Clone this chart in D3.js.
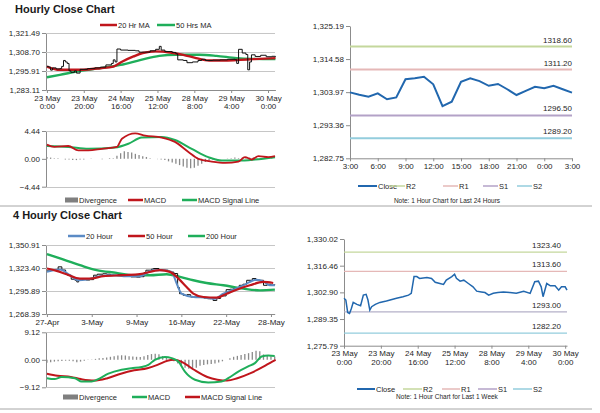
<!DOCTYPE html>
<html>
<head>
<meta charset="utf-8">
<style>
  body { margin: 0; background: #fff; }
  svg { font-family: "Liberation Sans", Arial, sans-serif; }
  .axis .domain { stroke: #8c8c8c; }
  .axis line { stroke: #8c8c8c; }
  .axis text { fill: #262626; font-size: 8px; }
  .grid { stroke: #c6c6c6; stroke-width: 1; shape-rendering: crispEdges; }
  .title { font-size: 11px; font-weight: bold; fill: #1a1a1a; }
  .legend text { font-size: 7.5px; fill: #262626; }
  .note { font-size: 6.5px; fill: #262626; }
  .lvl { font-size: 8px; fill: #262626; }
</style>
<script src="https://d3js.org/d3.v7.min.js"></script>
</head>
<body>
<script>

// ---- hourly close chart (last week, bar index -> value) ----
var hourlyTicks = [["23 May","0:00"],["23 May","20:00"],["24 May","16:00"],["25 May","12:00"],["28 May","8:00"],["29 May","4:00"],["30 May","0:00"]];
var hourlyPrice = [[0,1299],[1,1298.5],[2,1296.5],[3,1298],[5,1297.3],[7,1297.5],[8,1299],[9,1303],[10,1302],[11,1301],[12,1296],[13,1295],[15,1296],[16,1294.5],[18,1297],[22,1297.5],[26,1298],[29,1298.5],[32,1300],[35,1301],[36,1303.4],[37,1302],[38,1310.7],[40,1310],[44,1309.8],[48,1309.5],[50,1308.6],[53,1308.6],[56,1309.5],[59,1310.5],[61,1312.5],[62,1310],[64,1309],[68,1308.4],[70,1307.5],[71,1303.4],[74,1303],[76,1301.5],[79,1302],[82,1303],[84,1303.8],[86,1303],[90,1303.2],[94,1303.4],[98,1303.8],[102,1303.5],[103,1301],[104,1310.5],[106,1308],[108,1307],[109,1296.7],[110,1302],[111,1306.8],[113,1305.7],[116,1306.5],[119,1305.5],[122,1305.8],[124,1305.2]];
var hourlyMA20 = [[0,1298.9],[7,1296.7],[18,1296.7],[29,1297.8],[36,1298.9],[41,1302.3],[47,1305.7],[52,1308],[59,1309.1],[67,1308.4],[74,1306.8],[81,1304.6],[88,1303],[97,1303],[105,1303.4],[112,1303.9],[124,1304.6]];
var hourlyMA50 = [[0,1291.7],[7,1293.3],[16,1295.5],[29,1297.8],[40,1300],[51,1303.4],[61,1306.1],[70,1306.8],[83,1306.8],[92,1306.1],[103,1304.6],[112,1304.1],[124,1303.9]];
var hourlyMacd = [[0,2.27],[4,1.9],[11.6,2.05],[17,1.35],[22.5,1.35],[29.8,1.6],[38,1.9],[40.7,3.2],[47.9,4.06],[53.3,3.7],[62.3,3.4],[69.5,2.7],[76.8,1.1],[82.2,0],[89.4,-0.43],[96.7,-0.65],[103.9,-0.43],[107.5,0.27],[111.2,-0.1],[114.8,0.43],[120.2,0.27],[123.8,0.43]];
var hourlySignal = [[0,2.05],[11.6,1.9],[22.5,1.6],[37,1.8],[44.2,2.4],[51.4,3.4],[62.3,3.5],[69.5,3.0],[78.6,1.6],[87.6,0.27],[94.9,-0.27],[103.9,-0.27],[113,-0.1],[123.8,0.27]];
// one value every 2 bars
var hourlyDivergence = [0.3,0.2,0.1,0.1,0.0,-0.1,
  -0.1,-0.2,-0.2,-0.1,-0.1,0,0.05,0,0,-0.05,0,0.1,
  0.1,0.5,0.9,1.2,1.1,1.0,0.8,0.6,0.4,0.3,0.1,0,
  -0.05,-0.1,-0.2,-0.4,-0.6,-0.8,-1.0,-1.2,-1.4,-1.5,-1.4,-1.1,-0.8,-0.5,-0.3,-0.1,
  -0.05,0,0,0.05,0.1,0.2,0.1,0.2,0.3,0.2,0.2,0.1,0.1,0.2,0.1,0.1];

// ---- last 24 hours ----
var dayHours = ["3:00","6:00","9:00","12:00","15:00","18:00","21:00","0:00","3:00"];
var dayClose = [1303.9,1303.15,1302.5,1303.6,1301.7,1302.3,1308.1,1308.4,1308.9,1306.5,1299.5,1300.9,1307.3,1308.4,1307.5,1306.0,1306.6,1304.9,1303.05,1304.4,1305.7,1305.2,1306.0,1304.9,1303.8];
var dayLevels = [["R2",1318.60],["R1",1311.20],["S1",1296.50],["S2",1289.20]];
var dayTicks = [1282.75,1293.36,1303.97,1314.58,1325.19];

// ---- 4 hourly close chart ----
var fourTicks = ["27-Apr","3-May","9-May","16-May","22-May","28-May"];
var fourPrice = [[0,1320],[2,1321],[5,1321],[6,1324.8],[8,1321],[10,1316],[11,1314.8],[13,1310],[15,1308.7],[16,1306.7],[17,1309],[19,1309.5],[21,1309],[23,1309.5],[25,1314.8],[27,1316],[30,1316.5],[32,1316],[34,1315],[36,1314.8],[38,1315.5],[41,1314],[43,1314.8],[45,1312.8],[48,1312.5],[50,1313],[52,1318],[53,1320.8],[56,1322],[57,1322.8],[60,1321.5],[62,1320.8],[65,1319.5],[66,1318.5],[68,1316.8],[70,1300],[71,1292.7],[73,1290.7],[75,1291.5],[77,1288.7],[80,1289],[82,1288.7],[84,1287.5],[86,1286.7],[88,1287],[89,1284.6],[91,1287],[93,1290],[96,1297.5],[98,1298],[100,1298.7],[103,1302.7],[105,1304],[107,1308.7],[110,1310.8],[112,1309],[114,1308.7],[116,1302.7],[118,1304],[120,1303],[122,1303.9]];
var four20 = [[0,1318.8],[7,1321.6],[12.3,1314.8],[16.8,1308.7],[21.2,1309.5],[28.4,1313.6],[35.5,1314.8],[42.7,1313.6],[49.8,1313.6],[57,1320.8],[62.3,1320.8],[66.8,1318.8],[69.5,1304.7],[72.1,1292.7],[78.4,1288.7],[85.5,1287.9],[90,1286.7],[94.5,1292.7],[99.8,1297.5],[105.2,1302.7],[112.3,1309.5],[115.9,1307.5],[119.4,1302.7],[122.1,1302.7]];
var four50 = [[0,1322.8],[5.2,1320],[10.5,1316],[17.7,1310.8],[23,1310.8],[30.2,1313.6],[40.9,1314.8],[49.8,1316],[60.5,1320.8],[65.9,1318.8],[69.5,1312.8],[74.8,1300.7],[78.4,1292.7],[83.8,1288.7],[90.9,1287.9],[96.3,1292.7],[101.6,1297.5],[108.7,1302.7],[115.9,1306.7],[121.2,1305.5]];
var four200 = [[0,1340],[7,1334.8],[17.7,1326.8],[26.6,1320.8],[37.3,1317.6],[46.2,1314.8],[55.2,1314.8],[64.1,1316],[71.3,1312.8],[78.4,1308.7],[85.5,1305.5],[94.5,1302.7],[105.2,1298.7],[114.1,1296.7],[122.1,1297.5]];
var fourMacd = [[0,-6.1],[4,-6.4],[7.9,-5.7],[15,-6.1],[18.6,-7.2],[23.9,-7.2],[27.5,-6.4],[32.9,-4.6],[40,-3.3],[45.3,-2.8],[50.7,-2.4],[54.3,-1.7],[57.8,0],[63.2,0.9],[66.8,0.55],[70.4,-0.55],[73.9,-3.9],[79.3,-6.6],[86.4,-7.5],[93.5,-7.2],[97.1,-6.1],[102.5,-3.9],[107.8,-2.2],[111.4,-1.1],[115,1.1],[118.5,1.4],[122,1.3]];
var fourSignal = [[0,-4.6],[5.7,-5.3],[12.8,-5.7],[18.2,-6.4],[25.3,-6.9],[32.4,-6.1],[39.6,-4.6],[46.7,-3.5],[53.8,-2.8],[59.2,-1.7],[64.5,-0.3],[68.1,0],[73.4,-1.1],[78.8,-3.3],[85.9,-5.7],[91.3,-6.6],[96.6,-6.9],[102,-6.1],[109.1,-4.4],[116.2,-2.2],[119.8,-0.9],[122.5,0]];
var fourDivergence = [-1.0,-0.8,-0.6,-0.5,-0.4,-0.3,-0.3,-0.5,-0.8,-0.6,
  -0.3,-0.1,0.1,0.3,0.5,0.6,0.8,1.0,
  1.2,1.4,1.5,1.4,1.2,1.1,1.0,0.9,
  1.2,1.6,1.9,2.0,1.8,1.3,0.8,0.3,
  -0.5,-1.2,-2.0,-2.6,-3.0,-3.0,-2.6,-2.0,-1.7,
  -1.5,-1.4,-1.2,-0.9,-0.5,0.0,
  0.5,1.0,1.3,1.6,1.9,2.2,2.6,3.0,2.8,1.8,1.3,1.2,1.1];

// ---- 1 hour chart for last 1 week ----
var weekClose = [[0,1299.9],[1,1299],[2,1292.7],[3,1292.2],[4,1294.7],[5,1297.8],[7,1296.8],[9,1296.1],[10.5,1301.5],[12,1301.9],[13,1299],[14,1293.9],[15,1295.6],[17,1296.8],[19.5,1297.8],[23,1298.5],[25,1299],[28.5,1299.9],[32,1300.7],[35,1301.5],[36.5,1302.4],[38,1310.9],[39.5,1310.9],[41,1310],[45,1310.4],[47.5,1310],[49.5,1308],[52,1307.4],[54,1306.9],[55.5,1309.1],[58.5,1310.9],[60,1312.1],[61,1310],[63,1308.6],[65,1309.1],[67.5,1307.4],[70,1305.7],[72,1303.5],[74.5,1303.1],[76.5,1302.8],[78.5,1301.5],[81,1302.4],[83.5,1302.8],[86.5,1303.1],[90,1302.8],[93.5,1302.4],[97.5,1303.5],[101,1302.4],[103.5,1308.3],[105.5,1308.6],[107,1305.7],[108,1300.7],[110,1307.4],[112,1306.2],[114.5,1306.2],[116.5,1304],[118,1305.7],[120,1305.7],[121,1304]];
var weekLevels = [["R2",1323.40],["R1",1313.60],["S1",1293.00],["S2",1282.20]];
var weekTicks = [1275.79,1289.35,1302.90,1316.46,1330.02];

var RED = "#c0161c", GREEN = "#1fae5a", BLUE = "#5b8bc5", DIV = "#8a8a8a";
var CLOSE = "#2167ae";
var levelColor = { R2: "#c4d79c", R1: "#e5b8b7", S1: "#b3a2c7", S2: "#93cddd" };
var fmt2 = d3.format(",.2f");

var svg = d3.select("body").append("svg")
  .attr("width", 600).attr("height", 413);

svg.append("text").attr("class", "title").attr("x", 15).attr("y", 13).text("Hourly Close Chart");
svg.append("text").attr("class", "title").attr("x", 13).attr("y", 219).text("4 Hourly Close Chart");

svg.selectAll(".sep").data([206, 409]).enter().append("line")
  .attr("x1", 0).attr("x2", 592).attr("y1", function(d){return d;}).attr("y2", function(d){return d;})
  .attr("stroke", "#a6a6a6").attr("stroke-width", 1);

function legend(y, items) {
  var g = svg.append("g").attr("class", "legend");
  items.forEach(function(it) {
    if (it.box) {
      g.append("rect").attr("x", it.x0).attr("y", y - 2.5).attr("width", it.x1 - it.x0).attr("height", 5).attr("fill", it.color);
    } else {
      g.append("line").attr("x1", it.x0).attr("x2", it.x1).attr("y1", y).attr("y2", y)
        .attr("stroke", it.color).attr("stroke-width", it.w || 2.5);
    }
    g.append("text").attr("x", it.x1 + 1).attr("y", y).attr("dy", "0.35em").text(it.label);
  });
}

function lineOf(x, y, curve) {
  return d3.line().x(function(d){return x(d[0]);}).y(function(d){return y(d[1]);}).curve(curve || d3.curveLinear);
}

function leftAxis(y, xPos, ticks, format, grid, x1) {
  var g = svg.append("g").attr("class", "axis").attr("transform", "translate(" + xPos + ",0)")
    .call(d3.axisLeft(y).tickValues(ticks).tickFormat(format).tickSize(4).tickSizeOuter(0).tickPadding(2));
  if (grid) {
    svg.append("g").selectAll("line").data(grid).enter().append("line").attr("class", "grid")
      .attr("x1", xPos).attr("x2", x1).attr("y1", function(d){return Math.round(y(d)) + 0.5;}).attr("y2", function(d){return Math.round(y(d)) + 0.5;});
  }
  return g;
}

function bottomAxis(x, yPos, ticks, labels) {
  var g = svg.append("g").attr("class", "axis").attr("transform", "translate(0," + yPos + ")")
    .call(d3.axisBottom(x).tickValues(ticks).tickSize(3).tickSizeOuter(0).tickPadding(2));
  g.selectAll(".tick text").each(function(d, i) {
    var el = d3.select(this), lab = labels[i];
    el.text(null);
    [].concat(lab).forEach(function(t, k) {
      el.append("tspan").attr("x", 0).attr("dy", k ? "1.1em" : "0.71em").text(t);
    });
  });
  return g;
}

function divergenceBars(x, y, values) {
  svg.append("g").selectAll("line").data(values).enter().append("line")
    .attr("x1", function(d, i){return x(i * 2);}).attr("x2", function(d, i){return x(i * 2);})
    .attr("y1", y(0)).attr("y2", function(d){return y(d);})
    .attr("stroke", DIV).attr("stroke-width", 1.3);
}

// ================= Panel 1: hourly price =================
(function() {
  var x = d3.scaleLinear().domain([-0.5, 124]).range([46, 275.4]);
  var y = d3.scaleLinear().domain([1283.11, 1321.49]).range([90, 33]);
  var ticks = [1283.11, 1295.91, 1308.70, 1321.49];
  leftAxis(y, 46, ticks, fmt2, ticks.slice(1), 275);
  bottomAxis(x, 90, [0, 20, 40, 60, 80, 100, 120], hourlyTicks);
  svg.append("path").datum(hourlyMA50).attr("d", lineOf(x, y, d3.curveMonotoneX)).attr("fill", "none").attr("stroke", GREEN).attr("stroke-width", 2.4);
  svg.append("path").datum(hourlyMA20).attr("d", lineOf(x, y, d3.curveMonotoneX)).attr("fill", "none").attr("stroke", RED).attr("stroke-width", 2.4);
  svg.append("path").datum(hourlyPrice).attr("d", lineOf(x, y, d3.curveStepAfter)).attr("fill", "none").attr("stroke", "#111").attr("stroke-width", 1);
  legend(25, [
    { x0: 100, x1: 117, color: RED, label: "20 Hr MA" },
    { x0: 157, x1: 175, color: GREEN, label: "50 Hrs MA" }
  ]);
})();

// ================= Panel 2: hourly MACD =================
(function() {
  var x = d3.scaleLinear().domain([-0.5, 124]).range([46, 275.4]);
  var y = d3.scaleLinear().domain([-4.44, 4.44]).range([186.7, 131]);
  leftAxis(y, 46, [-4.44, 0, 4.44], d3.format(".2f"), [-4.44, 4.44], 275);
  divergenceBars(x, y, hourlyDivergence);
  svg.append("path").datum(hourlySignal).attr("d", lineOf(x, y, d3.curveMonotoneX)).attr("fill", "none").attr("stroke", GREEN).attr("stroke-width", 2);
  svg.append("path").datum(hourlyMacd).attr("d", lineOf(x, y, d3.curveMonotoneX)).attr("fill", "none").attr("stroke", RED).attr("stroke-width", 1.8);
  legend(200, [
    { x0: 65, x1: 78, color: "#7f7f7f", label: "Divergence", box: true },
    { x0: 128, x1: 143, color: RED, label: "MACD" },
    { x0: 182, x1: 197, color: GREEN, label: "MACD Signal Line" }
  ]);
})();

// ================= Panel 3: last 24 hours =================
(function() {
  var x = d3.scaleLinear().domain([0, 24]).range([350, 572]);
  var y = d3.scaleLinear().domain([1282.75, 1325.19]).range([158.3, 26]);
  leftAxis(y, 350, dayTicks, fmt2);
  bottomAxis(x, 158.3, d3.range(0, 25, 3), dayHours);
  var lv = svg.append("g");
  dayLevels.forEach(function(l) {
    lv.append("line").attr("x1", 350).attr("x2", 572).attr("y1", y(l[1])).attr("y2", y(l[1]))
      .attr("stroke", levelColor[l[0]]).attr("stroke-width", 2);
    lv.append("text").attr("class", "lvl").attr("x", 572).attr("y", y(l[1]) - 4).attr("text-anchor", "end").text(l[1].toFixed(2));
  });
  svg.append("path").datum(dayClose).attr("d", d3.line().x(function(d, i){return x(i);}).y(function(d){return y(d);}))
    .attr("fill", "none").attr("stroke", CLOSE).attr("stroke-width", 2);
  legend(186, [
    { x0: 358, x1: 377, color: CLOSE, label: "Close", w: 2 },
    { x0: 389, x1: 405, color: levelColor.R2, label: "R2", w: 1.5 },
    { x0: 443, x1: 458, color: levelColor.R1, label: "R1", w: 1.5 },
    { x0: 483, x1: 498, color: levelColor.S1, label: "S1", w: 1.5 },
    { x0: 517, x1: 532, color: levelColor.S2, label: "S2", w: 1.5 }
  ]);
  svg.append("text").attr("class", "note").attr("x", 447).attr("y", 201).attr("dy", "0.35em").attr("text-anchor", "middle")
    .text("Note: 1 Hour Chart for Last 24 Hours");
})();

// ================= Panel 4: 4 hourly price =================
(function() {
  var x = d3.scaleLinear().domain([-0.5, 122]).range([46, 274.7]);
  var y = d3.scaleLinear().domain([1268.39, 1350.91]).range([314, 245]);
  var ticks = [1268.39, 1295.89, 1323.40, 1350.91];
  leftAxis(y, 46, ticks, fmt2, ticks.slice(1), 275);
  bottomAxis(x, 314, [0, 24, 48, 72, 96, 120], fourTicks);
  svg.append("path").datum(four200).attr("d", lineOf(x, y, d3.curveMonotoneX)).attr("fill", "none").attr("stroke", GREEN).attr("stroke-width", 2.4);
  svg.append("path").datum(fourPrice).attr("d", lineOf(x, y, d3.curveStepAfter)).attr("fill", "none").attr("stroke", "#111").attr("stroke-width", 1);
  svg.append("path").datum(four20).attr("d", lineOf(x, y, d3.curveMonotoneX)).attr("fill", "none").attr("stroke", BLUE).attr("stroke-width", 2);
  svg.append("path").datum(four50).attr("d", lineOf(x, y, d3.curveMonotoneX)).attr("fill", "none").attr("stroke", RED).attr("stroke-width", 2.2);
  legend(236, [
    { x0: 68, x1: 85, color: BLUE, label: "20 Hour" },
    { x0: 128, x1: 145, color: RED, label: "50 Hour" },
    { x0: 188, x1: 205, color: GREEN, label: "200 Hour" }
  ]);
})();

// ================= Panel 5: 4 hourly MACD =================
(function() {
  var x = d3.scaleLinear().domain([-0.5, 122]).range([46, 274.7]);
  var y = d3.scaleLinear().domain([-9.12, 9.12]).range([387.3, 332.3]);
  leftAxis(y, 46, [-9.12, 0, 9.12], d3.format(".2f"), [-9.12, 9.12], 275);
  divergenceBars(x, y, fourDivergence);
  svg.append("path").datum(fourSignal).attr("d", lineOf(x, y, d3.curveMonotoneX)).attr("fill", "none").attr("stroke", RED).attr("stroke-width", 2);
  svg.append("path").datum(fourMacd).attr("d", lineOf(x, y, d3.curveMonotoneX)).attr("fill", "none").attr("stroke", GREEN).attr("stroke-width", 2);
  legend(397, [
    { x0: 63, x1: 78, color: "#7f7f7f", label: "Divergence", box: true },
    { x0: 132, x1: 147, color: GREEN, label: "MACD" },
    { x0: 185, x1: 200, color: RED, label: "MACD Signal Line" }
  ]);
})();

// ================= Panel 6: 1 hour chart last week =================
(function() {
  var x = d3.scaleLinear().domain([0, 121]).range([344, 567]);
  var y = d3.scaleLinear().domain([1275.79, 1330.02]).range([345.7, 239]);
  leftAxis(y, 344, weekTicks, fmt2);
  bottomAxis(x, 345.7, [0, 20, 40, 60, 80, 100, 120], hourlyTicks);
  var lv = svg.append("g");
  weekLevels.forEach(function(l) {
    lv.append("line").attr("x1", 344).attr("x2", 567).attr("y1", y(l[1])).attr("y2", y(l[1]))
      .attr("stroke", l[0] === "S1" ? "#b4b0c8" : levelColor[l[0]]).attr("stroke-width", 1.3);
    lv.append("text").attr("class", "lvl").attr("x", 561).attr("y", y(l[1]) - 4).attr("text-anchor", "end").text(l[1].toFixed(2));
  });
  svg.append("path").datum(weekClose).attr("d", lineOf(x, y))
    .attr("fill", "none").attr("stroke", CLOSE).attr("stroke-width", 1.5);
  legend(389, [
    { x0: 357, x1: 375, color: CLOSE, label: "Close", w: 2 },
    { x0: 403, x1: 422, color: levelColor.R2, label: "R2", w: 1.5 },
    { x0: 442, x1: 460, color: levelColor.R1, label: "R1", w: 1.5 },
    { x0: 478, x1: 497, color: levelColor.S1, label: "S1", w: 1.5 },
    { x0: 513, x1: 532, color: levelColor.S2, label: "S2", w: 1.5 }
  ]);
  svg.append("text").attr("class", "note").attr("x", 447).attr("y", 397).attr("dy", "0.35em").attr("text-anchor", "middle")
    .text("Note: 1 Hour Chart for Last 1 Week");
})();

</script>
</body>
</html>
